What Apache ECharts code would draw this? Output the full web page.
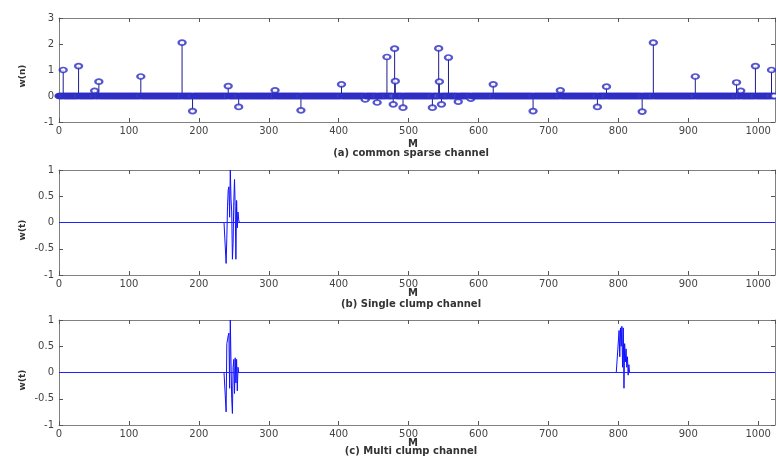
<!DOCTYPE html>
<html>
<head>
<meta charset="utf-8">
<script src="https://cdn.jsdelivr.net/npm/echarts@6/dist/echarts.min.js"></script>
<style>html,body{margin:0;padding:0;background:#fff}#c{width:776px;height:461px}</style>
</head>
<body>
<div id="c"></div>
<script>
// ---- data ----
const N = 1024;                        // channel length (taps 0..1023)
const xTicks = [0,100,200,300,400,500,600,700,800,900,1000];
// (a) common sparse channel: non-zero taps [index, value]; all other taps are 0
const sparseTaps = [
  [6,1.0],[28,1.15],[51,0.2],[57,0.55],[117,0.75],[176,2.05],[191,-0.58],
  [242,0.38],[257,-0.42],[309,0.22],[346,-0.55],[404,0.45],[438,-0.13],
  [455,-0.25],[469,1.5],[478,-0.32],[480,1.82],[481,0.57],[492,-0.45],
  [534,-0.45],[543,1.83],[544,0.55],[547,-0.32],[557,1.48],[571,-0.22],
  [589,-0.1],[621,0.45],[678,-0.58],[717,0.22],[770,-0.42],[783,0.36],
  [834,-0.6],[850,2.05],[910,0.75],[969,0.52],[975,0.2],[996,1.15],[1019,1.0]
];
// (b) single clump channel: clump start index and values; zero elsewhere
const singleStart = 238;
const singleVals = [0,-0.78,-0.3,0.3,0.62,0.68,0.1,1.0,0.45,0.2,-0.7,-0.4,0.4,0.82,0.3,-0.7,0.42,-0.1,0.2,0.05,0];
// (c) multi clump channel: two clumps; zero elsewhere
const multiStart1 = 238;
const multiVals1 = [0,-0.75,0.55,0.62,0.7,0.75,-0.3,1.0,0.2,-0.5,-0.78,0.1,0.25,-0.4,0.28,-0.2,0.25,-0.35,0.1,0];
const multiStart2 = 800;
const multiVals2 = [0,0.8,0.3,0.85,0.5,0.88,0.1,0.85,-0.3,0.55,0.2,0.45,0.1,0.3,-0.05,0.15,0];
const captions = ['(a) common sparse channel','(b) Single clump channel','(c) Multi clump channel'];
const yNames = ['w(n)','w(t)','w(t)'];

// ---- build full-length sequences ----
function zeros(){ return new Array(N).fill(0); }
const hA = zeros(); sparseTaps.forEach(([i,v]) => { hA[i] = v; });
const hB = zeros(); singleVals.forEach((v,k) => { hB[singleStart+k] = v; });
const hC = zeros(); multiVals1.forEach((v,k) => { hC[multiStart1+k] = v; });
multiVals2.forEach((v,k) => { hC[multiStart2+k] = v; });
const pts = a => a.map((v,i) => [i,v]);

const FONT = 'DejaVu Sans';
const frame = '#808080';
const tickCol = '#555';
const grids = [
  {left:59, right:1, top:18, height:104},
  {left:59, right:1, top:170, height:105},
  {left:59, right:1, top:320, height:105}
];
const yRanges = [{min:-1,max:3,interval:1},{min:-1,max:1,interval:0.5},{min:-1,max:1,interval:0.5}];

const xAxis = [], yAxis = [];
grids.forEach((g,i) => {
  xAxis.push({type:'value', gridIndex:i, min:0, max:N, interval:100, position:'bottom',
    axisLine:{show:true, onZero:false, lineStyle:{color:frame}}, axisTick:{show:true, inside:true, length:4, lineStyle:{color:tickCol}},
    axisLabel:{show:true, fontFamily:FONT, fontSize:10, color:'#444', margin:4, showMaxLabel:false,
      formatter: v => xTicks.indexOf(v) >= 0 ? String(v) : ''},
    splitLine:{show:false}});
  xAxis.push({type:'value', gridIndex:i, min:0, max:N, interval:100, position:'top',
    axisLine:{show:true, onZero:false, lineStyle:{color:frame}}, axisTick:{show:true, inside:true, length:4, lineStyle:{color:tickCol}},
    axisLabel:{show:false}, splitLine:{show:false}});
  yAxis.push(Object.assign({type:'value', gridIndex:i, position:'left',
    axisLine:{show:true, onZero:false, lineStyle:{color:frame}}, axisTick:{show:true, inside:true, length:4, lineStyle:{color:tickCol}},
    axisLabel:{show:true, fontFamily:FONT, fontSize:10, color:'#444', margin:5},
    splitLine:{show:false}}, yRanges[i]));
  yAxis.push(Object.assign({type:'value', gridIndex:i, position:'right',
    axisLine:{show:true, onZero:false, lineStyle:{color:frame}}, axisTick:{show:true, inside:true, length:4, lineStyle:{color:tickCol}},
    axisLabel:{show:false}, splitLine:{show:false}}, yRanges[i]));
});

const zeroLine = {silent:true, symbol:['none','none'], label:{show:false},
  lineStyle:{color:'#2020ff', width:1, type:'solid'}, data:[{yAxis:0}]};

const series = [
  {type:'bar', xAxisIndex:0, yAxisIndex:0, barWidth:1, data: sparseTaps.map(t => [t[0], t[1]]),
    itemStyle:{color:'#1c1c8a'}, silent:true},
  {type:'scatter', xAxisIndex:0, yAxisIndex:0, data: pts(hA), symbol:'emptyCircle', symbolSize:[7,5],
    itemStyle:{color:'#2a2ac4', borderColor:'#2a2ac4', borderWidth:0.9}, silent:true},
  {type:'line', xAxisIndex:2, yAxisIndex:2, data: pts(hB), showSymbol:false, lineStyle:{color:'#1010ff', width:1}, silent:true,
    markLine: zeroLine},
  {type:'line', xAxisIndex:4, yAxisIndex:4, data: pts(hC), showSymbol:false, lineStyle:{color:'#1010ff', width:1}, silent:true,
    markLine: zeroLine}
];

const mY = [144, 293, 443];
const capY = [153, 304, 451];
const yNameY = [76, 230, 380];
const graphic = [];
for (let i = 0; i < 3; i++) {
  graphic.push({type:'text', x:413, y:mY[i], style:{text:'M', font:'bold 10px "DejaVu Sans"', fill:'#333', align:'center', verticalAlign:'middle'}});
  graphic.push({type:'text', x:411, y:capY[i], style:{text:captions[i], font:'bold 10px "DejaVu Sans"', fill:'#333', align:'center', verticalAlign:'middle'}});
  graphic.push({type:'text', x:23, y:yNameY[i], rotation:Math.PI/2, style:{text:yNames[i], font:'bold 9px "DejaVu Sans"', fill:'#333', align:'center', verticalAlign:'middle'}});
}

const chart = echarts.init(document.getElementById('c'), null, {renderer:'canvas'});
chart.setOption({animation:false, backgroundColor:'#fff', grid:grids, xAxis, yAxis, series, graphic});
</script>
</body>
</html>
